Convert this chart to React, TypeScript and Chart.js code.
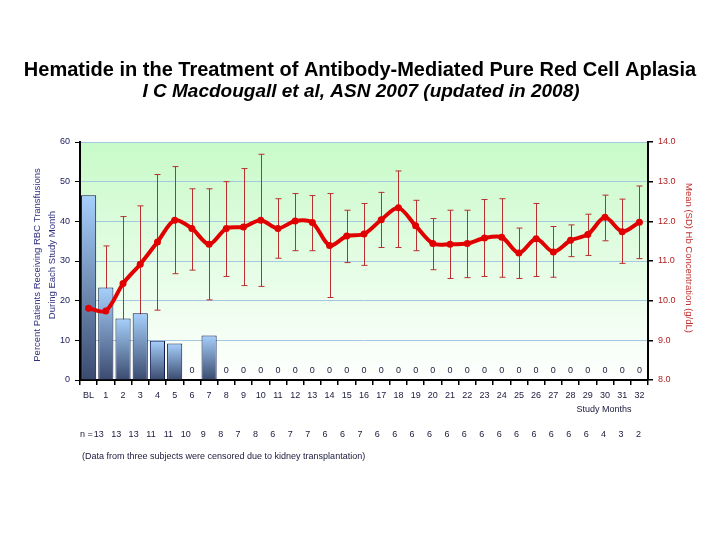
import { useEffect, useRef } from "react";
import { Chart, registerables } from "chart.js";
Chart.register(...registerables);

const FONT = "'Liberation Sans', Arial, sans-serif";

const months = ["BL", "1", "2", "3", "4", "5", "6", "7", "8", "9", "10", "11", "12", "13", "14", "15", "16", "17", "18", "19", "20", "21", "22", "23", "24", "25", "26", "27", "28", "29", "30", "31", "32"];
const transfusionPct = [46.6, 23.3, 15.5, 16.8, 9.9, 9.2, 0, 11.2, 0, 0, 0, 0, 0, 0, 0, 0, 0, 0, 0, 0, 0, 0, 0, 0, 0, 0, 0, 0, 0, 0, 0, 0, 0];
const hbMean = [9.81, 9.74, 10.43, 10.92, 11.48, 12.03, 11.82, 11.42, 11.82, 11.86, 12.03, 11.82, 12.01, 11.97, 11.39, 11.63, 11.68, 12.04, 12.34, 11.89, 11.44, 11.42, 11.44, 11.58, 11.6, 11.2, 11.56, 11.23, 11.52, 11.67, 12.1, 11.74, 11.98];
const hbHigh = [11.25, 11.38, 12.12, 12.39, 13.18, 13.38, 12.82, 12.82, 13.0, 13.33, 13.69, 12.57, 12.7, 12.65, 12.7, 12.28, 12.45, 12.73, 13.27, 12.53, 12.07, 12.28, 12.28, 12.55, 12.57, 11.83, 12.45, 11.87, 11.91, 12.18, 12.66, 12.56, 12.89];
const hbLow = [8.4, 8.14, 8.72, 9.47, 9.76, 10.68, 10.77, 10.02, 10.61, 10.38, 10.36, 11.07, 11.26, 11.26, 10.08, 10.96, 10.89, 11.34, 11.34, 11.26, 10.78, 10.56, 10.58, 10.61, 10.59, 10.56, 10.61, 10.59, 11.11, 11.14, 11.51, 10.94, 11.06];
const nPatients = [13, 13, 13, 11, 11, 10, 9, 8, 7, 8, 6, 7, 7, 6, 6, 7, 6, 6, 6, 6, 6, 6, 6, 6, 6, 6, 6, 6, 6, 4, 3, 2];
const leftTicks = [0, 10, 20, 30, 40, 50, 60];
const rightTicks = [8, 9, 10, 11, 12, 13, 14];

const titleText = "Hematide in the Treatment of Antibody-Mediated Pure Red Cell Aplasia";
const subtitleText = "I C Macdougall et al, ASN 2007 (updated in 2008)";
const leftTitle = ["Percent Patients Receiving RBC Transfusions", "During Each Study Month"];
const rightTitle = "Mean (SD) Hb Concentration (g/dL)";
const xTitle = "Study Months";
const noteText = "(Data from three subjects were censored due to kidney transplantation)";

const bgPlugin = {
  id: "bg",
  beforeDraw(chart: any) {
    const { ctx, chartArea: a } = chart;
    ctx.save();
    ctx.fillStyle = "#ffffff";
    ctx.fillRect(0, 0, chart.width, chart.height);
    const g = ctx.createLinearGradient(0, a.top, 0, a.bottom);
    g.addColorStop(0, "#c8fac8");
    g.addColorStop(1, "#ffffff");
    ctx.fillStyle = g;
    ctx.fillRect(a.left, a.top, a.right - a.left, a.bottom - a.top);
    ctx.restore();
  },
};

const errorBarPlugin = {
  id: "errbars",
  beforeDatasetDraw(chart: any, args: any) {
    if (args.index !== 1) return;
    const { ctx } = chart;
    const xs = chart.scales.x;
    const ys = chart.scales.y1;
    ctx.save();
    ctx.strokeStyle = "#b83030";
    ctx.lineWidth = 1;
    hbMean.forEach((_, i) => {
      const x = Math.round(xs.getPixelForValue(i)) + 0.5;
      const yt = ys.getPixelForValue(hbHigh[i]);
      const yb = ys.getPixelForValue(hbLow[i]);
      ctx.beginPath();
      ctx.moveTo(x, yt);
      ctx.lineTo(x, yb);
      ctx.moveTo(x - 3, yt);
      ctx.lineTo(x + 3, yt);
      ctx.moveTo(x - 3, yb);
      ctx.lineTo(x + 3, yb);
      ctx.stroke();
    });
    ctx.restore();
  },
};

const textPlugin = {
  id: "texts",
  afterDraw(chart: any) {
    const { ctx } = chart;
    const xs = chart.scales.x;
    const ys = chart.scales.y;
    ctx.save();
    ctx.textAlign = "center";
    ctx.textBaseline = "middle";
    ctx.fillStyle = "#000000";
    ctx.font = `bold 20px ${FONT}`;
    ctx.fillText(titleText, 360, 70);
    ctx.font = `italic bold 19px ${FONT}`;
    ctx.fillText(subtitleText, 361, 92);

    // zero labels
    ctx.font = `9px ${FONT}`;
    ctx.fillStyle = "#202040";
    transfusionPct.forEach((v, i) => {
      if (v === 0) ctx.fillText("0", xs.getPixelForValue(i), ys.getPixelForValue(0) - 9);
    });

    // left axis title
    ctx.save();
    ctx.translate(37, 265);
    ctx.rotate(-Math.PI / 2);
    ctx.fillStyle = "#303080";
    ctx.font = `9.5px ${FONT}`;
    ctx.fillText(leftTitle[0], 0, 0);
    ctx.fillText(leftTitle[1], 0, 15);
    ctx.restore();

    // right axis title
    ctx.save();
    ctx.translate(689, 258);
    ctx.rotate(Math.PI / 2);
    ctx.fillStyle = "#c03030";
    ctx.font = `9.5px ${FONT}`;
    ctx.fillText(rightTitle, 0, 0);
    ctx.restore();

    // x title
    ctx.fillStyle = "#202040";
    ctx.font = `9px ${FONT}`;
    ctx.fillText(xTitle, 604, 410);

    // n row
    ctx.textAlign = "center";
    const last = nPatients.length - 1;
    nPatients.forEach((n, j) => {
      const x = xs.getPixelForValue(j + 1) - 7 + (6 * j) / last;
      ctx.fillText(String(n), x, 435);
    });
    ctx.textAlign = "right";
    ctx.fillText("n =", xs.getPixelForValue(1) - 13, 435);

    // note
    ctx.textAlign = "left";
    ctx.fillText(noteText, 82, 457);
    ctx.restore();
  },
};

export default function App() {
  const ref = useRef<HTMLCanvasElement | null>(null);
  useEffect(() => {
    if (!ref.current) return;
    const chart = new Chart(ref.current, {
      type: "bar",
      data: {
        labels: months,
        datasets: [
          {
            type: "line",
            label: "Hb",
            data: hbMean,
            yAxisID: "y1",
            order: 0,
            borderColor: "#e00000",
            backgroundColor: "#e00000",
            borderWidth: 4,
            pointRadius: 3.5,
            pointBorderWidth: 0,
            pointBackgroundColor: "#e00000",
            pointBorderColor: "#e00000",
            tension: 0.3,
          } as any,
          {
            type: "bar",
            label: "Transfusions",
            data: transfusionPct,
            yAxisID: "y",
            order: 1,
            barPercentage: 0.88,
            categoryPercentage: 1,
            borderColor: "#101850",
            borderWidth: 1,
            borderSkipped: "bottom",
            backgroundColor: (c: any) => {
              const ch = c.chart;
              const s = ch.scales && ch.scales.y;
              if (!ch.chartArea || !s) return "#7898c8";
              const top = s.getPixelForValue(c.raw || 0);
              const bot = s.getPixelForValue(0);
              if (bot - top < 1) return "#7898c8";
              const g = ch.ctx.createLinearGradient(0, top, 0, bot);
              g.addColorStop(0, "#a6d0fc");
              g.addColorStop(1, "#3a4a6e");
              return g;
            },
          },
        ],
      },
      options: {
        responsive: false,
        animation: false,
        layout: { padding: { left: 0, right: 0, top: 142, bottom: 140 } },
        plugins: { legend: { display: false }, tooltip: { enabled: false }, title: { display: false } },
        scales: {
          x: {
            type: "category",
            offset: true,
            grid: { offset: true, drawOnChartArea: false, tickLength: 5, tickColor: "#000000", lineWidth: 1.5 },
            border: { color: "#000000", width: 2 },
            ticks: { font: { size: 9, family: FONT }, color: "#202040", padding: 5, maxRotation: 0, autoSkip: false },
            afterFit: (s: any) => {
              s.height = 20;
            },
          },
          y: {
            position: "left",
            min: 0,
            max: 60,
            afterBuildTicks: (s: any) => {
              s.ticks = leftTicks.map((v) => ({ value: v }));
            },
            ticks: { font: { size: 9, family: FONT }, color: "#202060", padding: 5 },
            grid: { color: "#a4c8e0", tickLength: 5, tickColor: "#000000", lineWidth: 1 },
            border: { color: "#000000", width: 2 },
            afterFit: (s: any) => {
              s.width = 80;
            },
          },
          y1: {
            position: "right",
            min: 8,
            max: 14,
            afterBuildTicks: (s: any) => {
              s.ticks = rightTicks.map((v) => ({ value: v }));
            },
            ticks: {
              font: { size: 9, family: FONT },
              color: "#b02020",
              padding: 5,
              callback: (v: any) => Number(v).toFixed(1),
            },
            grid: { drawOnChartArea: false, tickLength: 5, tickColor: "#000000", lineWidth: 1.5 },
            border: { color: "#000000", width: 2 },
            afterFit: (s: any) => {
              s.width = 72;
            },
          },
        },
      },
      plugins: [bgPlugin, errorBarPlugin, textPlugin],
    } as any);
    return () => chart.destroy();
  }, []);
  return (
    <div style={{ position: "fixed", left: 0, top: 0, width: 720, height: 540, background: "#fff" }}>
      <canvas ref={ref} width={720} height={540} style={{ display: "block" }} />
    </div>
  );
}
